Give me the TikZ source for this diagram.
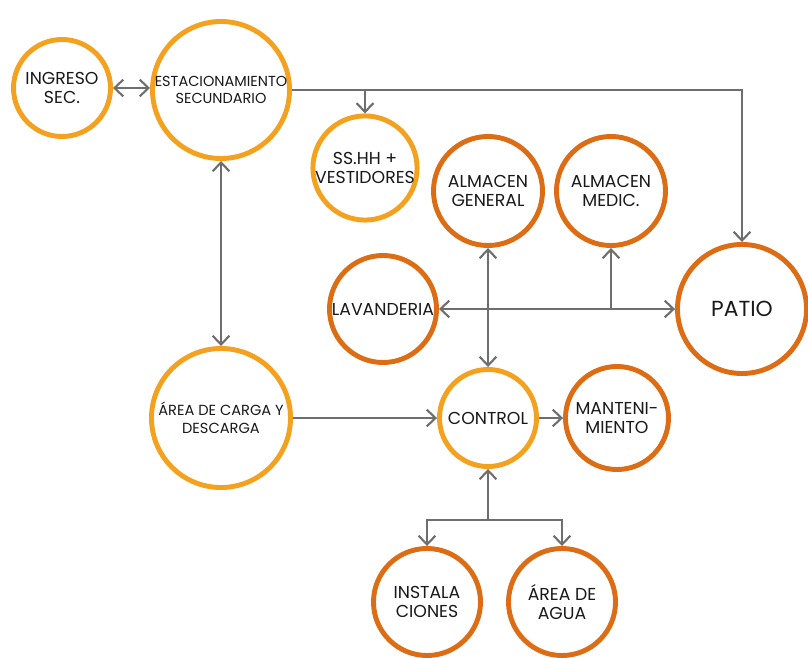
\documentclass[tikz,border=0pt]{standalone}
\usepackage{fontspec}
\setmainfont{Poppins}
\usetikzlibrary{arrows.meta}
\definecolor{lightOrange}{HTML}{F3A11E}
\definecolor{darkOrange}{HTML}{DC6D14}
\definecolor{lineGray}{HTML}{6E6E6E}
\begin{document}
\begin{tikzpicture}[x=0.025cm, y=-0.025cm,
    zoneStyle/.style={circle, line width=3.5pt, fill=white, inner sep=0pt, align=center, text=black!90, font=\fontsize{12.3}{13}\selectfont},
    lightZone/.style={zoneStyle, draw=lightOrange},
    darkZone/.style={zoneStyle, draw=darkOrange},
    linkStyle/.style={draw=lineGray, line width=1.5pt, arrows={Straight Barb[length=0.22cm, width=0.42cm, line width=1.5pt]-Straight Barb[length=0.22cm, width=0.42cm, line width=1.5pt]}},
    ->/.style={draw=lineGray, line width=1.5pt, -{Straight Barb[length=0.22cm, width=0.42cm, line width=1.5pt]}}]
    \useasboundingbox (0,0) rectangle (808,657);

    \node[lightZone, minimum size=2.425cm] (ingreso)    at (62, 88)  {INGRESO\\SEC.};
    \node[lightZone, minimum size=3.425cm, font=\fontsize{10.3}{12.5}\selectfont] (estac) at (221, 90) {ESTACIONAMIENTO\\SECUNDARIO};
    \node[lightZone, minimum size=2.325cm] (sshh)       at (365, 168) {SS.HH +\\VESTIDORES};
    \node[darkZone,  minimum size=2.725cm] (almgen)     at (488, 191) {ALMACEN\\GENERAL};
    \node[darkZone,  minimum size=2.725cm] (almmed)     at (611, 191) {ALMACEN\\MEDIC.};
    \node[darkZone,  minimum size=2.675cm] (lavanderia) at (383, 309) {LAVANDERIA};
    \node[darkZone,  minimum size=3.225cm, font=\fontsize{15.5}{17}\selectfont] (patio) at (742, 309) {PATIO};
    \node[lightZone, minimum size=3.475cm, font=\fontsize{10.4}{12.5}\selectfont] (carga) at (221, 418) {ÁREA DE CARGA Y\\DESCARGA};
    \node[lightZone, minimum size=2.425cm] (control)    at (488, 418) {CONTROL};
    \node[darkZone,  minimum size=2.575cm] (mant)       at (617, 418) {MANTENI-\\MIENTO};
    \node[darkZone,  minimum size=2.675cm] (instal)     at (427, 602) {INSTALA\\CIONES};
    \node[darkZone,  minimum size=2.675cm] (agua)       at (562, 602) {ÁREA DE\\AGUA};

    \coordinate (sshhJoin) at (sshh.north |- estac.east);
    \coordinate (medJoin)  at (almmed.south |- lavanderia.east);
    \coordinate (servJoin) at (488, 520);

    \draw[linkStyle] (ingreso.east) -- (ingreso.east -| estac.west);
    \draw[linkStyle] (estac.south) -- (carga.north);
    \draw[->] (estac.east) -| (patio.north);
    \draw[->] (sshhJoin) -- (sshh.north);

    \draw[linkStyle] (lavanderia.east) -- (patio.west);
    \draw[linkStyle] (almgen.south) -- (control.north);
    \draw[->] (medJoin) -- (almmed.south);

    \draw[->] (carga.east) -- (control.west);
    \draw[->] (control.east) -- (mant.west);

    \draw[->] (servJoin) -- (control.south);
    \draw[->] (servJoin) -| (instal.north);
    \draw[->] (servJoin) -| (agua.north);
\end{tikzpicture}
\end{document}
